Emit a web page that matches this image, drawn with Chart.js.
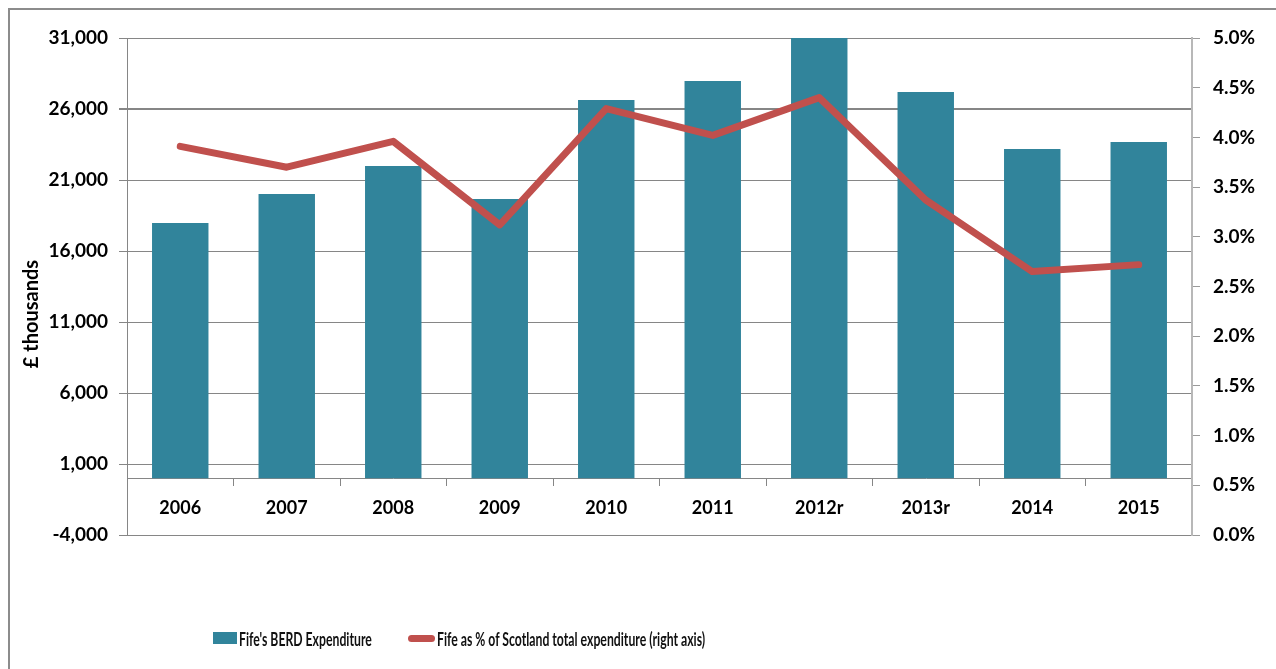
<!DOCTYPE html>
<html>
<head>
<meta charset="utf-8">
<script src="https://cdn.jsdelivr.net/npm/chart.js@4.4.1/dist/chart.umd.min.js"></script>
<style>
  body { margin: 0; background: #fff; }
  #wrap { position: relative; width: 1276px; height: 669px; overflow: hidden; }
  #frame { position: absolute; left: 8px; top: 8px; width: 1400px; height: 800px;
           border-left: 2px solid #8c8c8c; border-top: 2px solid #8c8c8c; }
  #chartBox { position: absolute; left: 0; top: 0; width: 1276px; height: 669px; }
  .lg { position: absolute; top: 627px; height: 22px; display: flex; align-items: center;
        font-family: "Lato", sans-serif; font-size: 18px; font-weight: bold; color: #111; white-space: nowrap; }
  .lg .sw { display: inline-block; margin-right: 2px; flex: none; }
  .lg .tx { display: inline-block; transform: scale(0.68, 1.1); transform-origin: left center; }
</style>
</head>
<body>
<div id="wrap">
  <div id="frame"></div>
  <div id="chartBox"><canvas id="berdChart"></canvas></div>
  <div class="lg" id="lg0" style="left:213px"></div>
  <div class="lg" id="lg1" style="left:408px"></div>
</div>
<script>
const years = ['2006', '2007', '2008', '2009', '2010', '2011', '2012r', '2013r', '2014', '2015'];
const berdSpend = [17970, 20010, 21990, 19660, 26630, 27970, 31000, 27200, 23180, 23680]; // £ thousands
const fifeShare = [3.91, 3.70, 3.96, 3.12, 4.29, 4.02, 4.40, 3.37, 2.65, 2.72]; // % of Scotland
const leftTicks = [-4000, 1000, 6000, 11000, 16000, 21000, 26000, 31000];
const rightTicks = [0, 0.5, 1, 1.5, 2, 2.5, 3, 3.5, 4, 4.5, 5];
const seriesLabels = ["Fife's BERD Expenditure", 'Fife as % of Scotland total expenditure (right axis)'];

const barColour = '#31849B';
const lineColour = '#C0504D';
const gridColour = '#868686';
const tickFont = { family: 'Lato', weight: 'bold', size: 19 };

// y axis title sits a bit below the middle of the plot, so draw it by hand
const axisTitle = {
    id: 'axisTitle',
    afterDraw(chart) {
        const ctx = chart.ctx;
        ctx.save();
        ctx.translate(32, 314);
        ctx.rotate(-Math.PI / 2);
        ctx.font = 'bold 20px Lato';
        ctx.fillStyle = '#000';
        ctx.textAlign = 'center';
        ctx.textBaseline = 'middle';
        ctx.fillText('£ thousands', 0, 0);
        ctx.restore();
    }
};

const ctx = document.getElementById('berdChart').getContext('2d');
new Chart(ctx, {
    data: {
        labels: years,
        datasets: [{
            type: 'line',
            label: seriesLabels[1],
            data: fifeShare,
            yAxisID: 'y1',
            borderColor: lineColour,
            backgroundColor: lineColour,
            borderWidth: 7,
            borderCapStyle: 'round',
            borderJoinStyle: 'round',
            pointRadius: 0,
            tension: 0,
            order: 0
        }, {
            type: 'bar',
            label: seriesLabels[0],
            data: berdSpend,
            yAxisID: 'y',
            backgroundColor: barColour,
            borderWidth: 0,
            barPercentage: 0.53,
            categoryPercentage: 1,
            order: 1
        }]
    },
    options: {
        responsive: true,
        maintainAspectRatio: false,
        animation: false,
        layout: { padding: { top: 38, bottom: 134, left: 0, right: 0 } },
        plugins: {
            legend: { display: false },
            tooltip: { enabled: false }
        },
        scales: {
            x: {
                position: { y: 0 },
                offset: true,
                grid: { drawOnChartArea: false, offset: true, tickLength: 7, color: gridColour },
                border: { color: gridColour, width: 1 },
                ticks: { font: { family: 'Lato', weight: 'bold', size: 18 }, color: '#000', padding: 12 }
            },
            y: {
                position: 'left',
                min: -4000,
                max: 31000,
                afterBuildTicks: axis => { axis.ticks = leftTicks.map(v => ({ value: v })); },
                afterFit: axis => { axis.width = 127; },
                grid: {
                    color: gridColour,
                    lineWidth: c => (c.tick && c.tick.value === 26000 ? 2 : 1),
                    tickLength: 8
                },
                border: { color: gridColour, width: 1 },
                ticks: {
                    callback: v => v.toLocaleString('en-GB'),
                    font: tickFont,
                    color: '#000',
                    padding: 11
                }
            },
            y1: {
                position: 'right',
                min: 0,
                max: 5,
                afterBuildTicks: axis => { axis.ticks = rightTicks.map(v => ({ value: v })); },
                afterFit: axis => { axis.width = 84; },
                grid: { drawOnChartArea: false, color: '#9a9a9a', tickLength: 8 },
                border: { color: '#b8b8b8', width: 2 },
                ticks: {
                    callback: v => v.toFixed(1) + '%',
                    font: tickFont,
                    color: '#000',
                    padding: 13
                }
            }
        }
    },
    plugins: [axisTitle]
});

// legend drawn as html under the plot
document.getElementById('lg0').innerHTML =
    '<span class="sw" style="width:24px;height:12px;background:' + barColour + '"></span>' +
    '<span class="tx">' + seriesLabels[0] + '</span>';
document.getElementById('lg1').innerHTML =
    '<span class="sw" style="width:27px;height:7px;border-radius:4px;background:' + lineColour + '"></span>' +
    '<span class="tx">' + seriesLabels[1] + '</span>';
</script>
</body>
</html>
